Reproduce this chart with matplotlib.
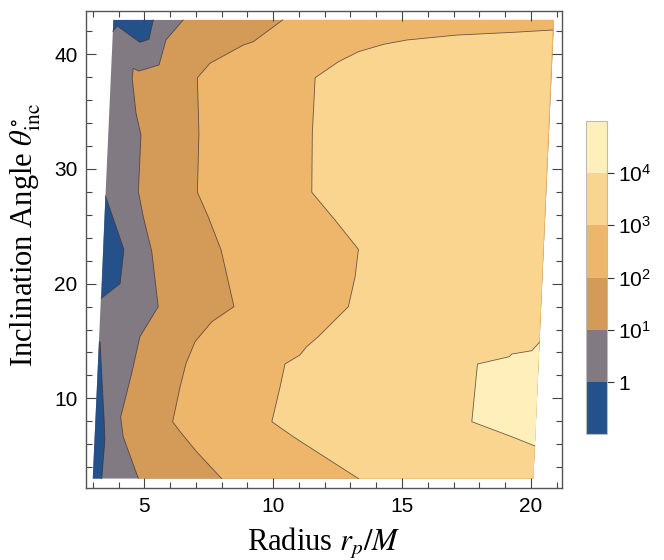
import numpy as np
import matplotlib
matplotlib.use('Agg')
import matplotlib.pyplot as plt
from matplotlib.colors import ListedColormap, BoundaryNorm
from matplotlib.cm import ScalarMappable

plt.rcParams['font.family'] = ['Liberation Sans', 'DejaVu Sans']
plt.rcParams['mathtext.fontset'] = 'stix'

# ── область данных (трапеция: радиус зависит от угла) ────────────────────
edge_theta = [3.0, 43.0]
edge_r_left = [3.0, 3.8]
edge_r_right = [20.1, 20.9]

# ── контуры: (r, theta), снизу вверх ────────────────────────────────────
# уровень 1 — три синих островка у левого края
blue_top_r = [5.35, 5.18, 4.83, 3.95, 3.78, 3.8]
blue_top_t = [43.0, 41.3, 41.05, 42.47, 42.0, 43.0]
blue_mid_r = [3.49, 4.16, 4.21, 4.06, 3.33]
blue_mid_t = [27.67, 23.3, 23.0, 20.0, 18.72]
blue_bot_r = [3.0, 3.35, 3.47, 3.44, 3.28, 3.24]
blue_bot_t = [3.0, 3.0, 6.4, 8.2, 14.94, 14.94]

# уровень 10
c1_r = [4.77, 4.18, 4.08, 4.12, 4.51, 4.83, 5.54, 5.29, 4.96, 4.77, 4.87,
        4.68, 4.53, 4.57, 4.79, 5.57, 5.84, 6.51]
c1_t = [3.0, 6.65, 8.4, 8.69, 12.18, 15.37, 17.99, 22.8, 25.84, 28.02, 32.96,
        34.85, 37.9, 38.78, 38.54, 39.07, 41.25, 43.0]

# уровень 100
c2_r = [8.0, 7.03, 6.39, 6.1, 6.39, 6.62, 6.97, 7.62, 8.48, 7.98, 7.48,
        7.06, 7.12, 7.06, 7.55, 8.84, 9.23, 10.37]
c2_t = [3.0, 5.34, 7.09, 7.96, 11.01, 13.05, 14.94, 16.68, 17.99, 22.93,
        25.84, 27.97, 33.1, 37.96, 39.22, 40.81, 41.1, 43.0]

# уровень 1000 (уходит на правый край)
c3_r = [13.31, 12.08, 10.78, 9.95, 10.27, 10.46, 11.04, 11.3, 11.75, 12.4,
        12.92, 13.18, 13.31, 12.4, 11.5, 11.52, 11.63, 12.53, 13.31, 14.28,
        15.19, 17.13, 19.32, 20.84]
c3_t = [3.0, 4.77, 6.65, 7.96, 11.01, 12.99, 13.78, 14.5, 15.37, 16.83,
        17.99, 20.6, 22.99, 25.55, 27.97, 33.1, 37.96, 39.35, 40.23, 40.87,
        41.25, 41.68, 41.92, 42.12]

# уровень 10^4 (островок у правого края)
c4_r = [20.33, 20.04, 19.26, 19.17, 17.93, 17.71, 19.26, 20.16]
c4_t = [14.88, 14.15, 13.86, 13.63, 12.99, 7.96, 6.65, 5.84]

levels = [0.1, 1, 10, 1e2, 1e3, 1e4, 1e5]
tick_vals = [1, 10, 1e2, 1e3, 1e4]
tick_text = [r'$\mathregular{1}$', r'$\mathregular{10^{1}}$',
             r'$\mathregular{10^{2}}$', r'$\mathregular{10^{3}}$',
             r'$\mathregular{10^{4}}$']
band_colors = ['#25518a', '#827a82', '#d49a58', '#edb66a', '#fad590', '#ffefbb']

# ── рисунок ──────────────────────────────────────────────────────────────
fig = plt.figure(figsize=(6.64, 5.6), dpi=100)
ax = fig.add_axes([86 / 664, 1 - 488.3 / 560, 476 / 664, 477.3 / 560])

line_kw = dict(color='#3c3030', linewidth=0.6, alpha=0.75, zorder=3)

# фон — серая полоса (1..10) на всей области
dom_r = [edge_r_left[0], edge_r_right[0], edge_r_right[1], edge_r_left[1]]
dom_t = [edge_theta[0], edge_theta[0], edge_theta[1], edge_theta[1]]
ax.fill(dom_r, dom_t, color=band_colors[1], lw=0, zorder=1)

# синие островки (< 1)
for br, bt in [(blue_top_r, blue_top_t), (blue_mid_r, blue_mid_t),
               (blue_bot_r, blue_bot_t)]:
    ax.fill(br, bt, color=band_colors[0], lw=0, zorder=1)
ax.plot(blue_top_r[:5], blue_top_t[:5], **line_kw)
ax.plot(blue_mid_r, blue_mid_t, **line_kw)
ax.plot(blue_bot_r[1:5], blue_bot_t[1:5], **line_kw)

# полосы правее контуров 10 и 100 (замыкаем через правые углы)
for cr, ct, col in [(c1_r, c1_t, band_colors[2]), (c2_r, c2_t, band_colors[3])]:
    ax.fill(cr + [edge_r_right[1], edge_r_right[0]],
            ct + [edge_theta[1], edge_theta[0]], color=col, lw=0, zorder=1)
    ax.plot(cr, ct, **line_kw)

# 1000: замыкаем по правому краю вниз
ax.fill(c3_r + [edge_r_right[0]], c3_t + [edge_theta[0]],
        color=band_colors[4], lw=0, zorder=1)
ax.plot(c3_r, c3_t, **line_kw)

# 10^4
ax.fill(c4_r, c4_t, color=band_colors[5], lw=0, zorder=1)
ax.plot(c4_r, c4_t, **line_kw)

ax.set_xlim(2.737, 21.21)
ax.set_ylim(2.15, 43.78)
ax.set_xticks([5, 10, 15, 20])
ax.set_xticks(np.arange(3, 22, 1), minor=True)
ax.set_yticks([10, 20, 30, 40])
ax.set_yticks(np.arange(4, 44, 2), minor=True)
ax.tick_params(which='both', direction='in', top=True, right=True,
               color='#444444', width=0.8, labelsize=15, pad=6)
ax.tick_params(which='major', length=7)
ax.tick_params(which='minor', length=4)
for sp in ax.spines.values():
    sp.set_color('#555555')
    sp.set_linewidth(1.0)

ax.set_xlabel(r'Radius $r_p/M$', fontsize=22, family='Liberation Serif')
ax.set_ylabel(r'Inclination Angle $\theta^{\circ}_{\mathrm{inc}}$',
              fontsize=22, family='Liberation Serif')
ax.xaxis.set_label_coords(0.5, -0.078)
ax.yaxis.set_label_coords(-0.09, 0.53)

# ── шкала цветов ─────────────────────────────────────────────────────────
cax = fig.add_axes([586 / 664, 1 - 434.3 / 560, 20.7 / 664, 313.6 / 560])
sm = ScalarMappable(norm=BoundaryNorm(levels, len(band_colors)),
                    cmap=ListedColormap(band_colors))
cb = fig.colorbar(sm, cax=cax, ticks=tick_vals)
cb.set_ticklabels(tick_text)
cb.ax.tick_params(direction='out', length=5, width=0.8, color='#333333',
                  labelsize=15, pad=3)
cb.outline.set_edgecolor('#bbbbbb')
cb.outline.set_linewidth(0.8)
cb.ax.minorticks_off()

fig.savefig('out.png', dpi=100)
